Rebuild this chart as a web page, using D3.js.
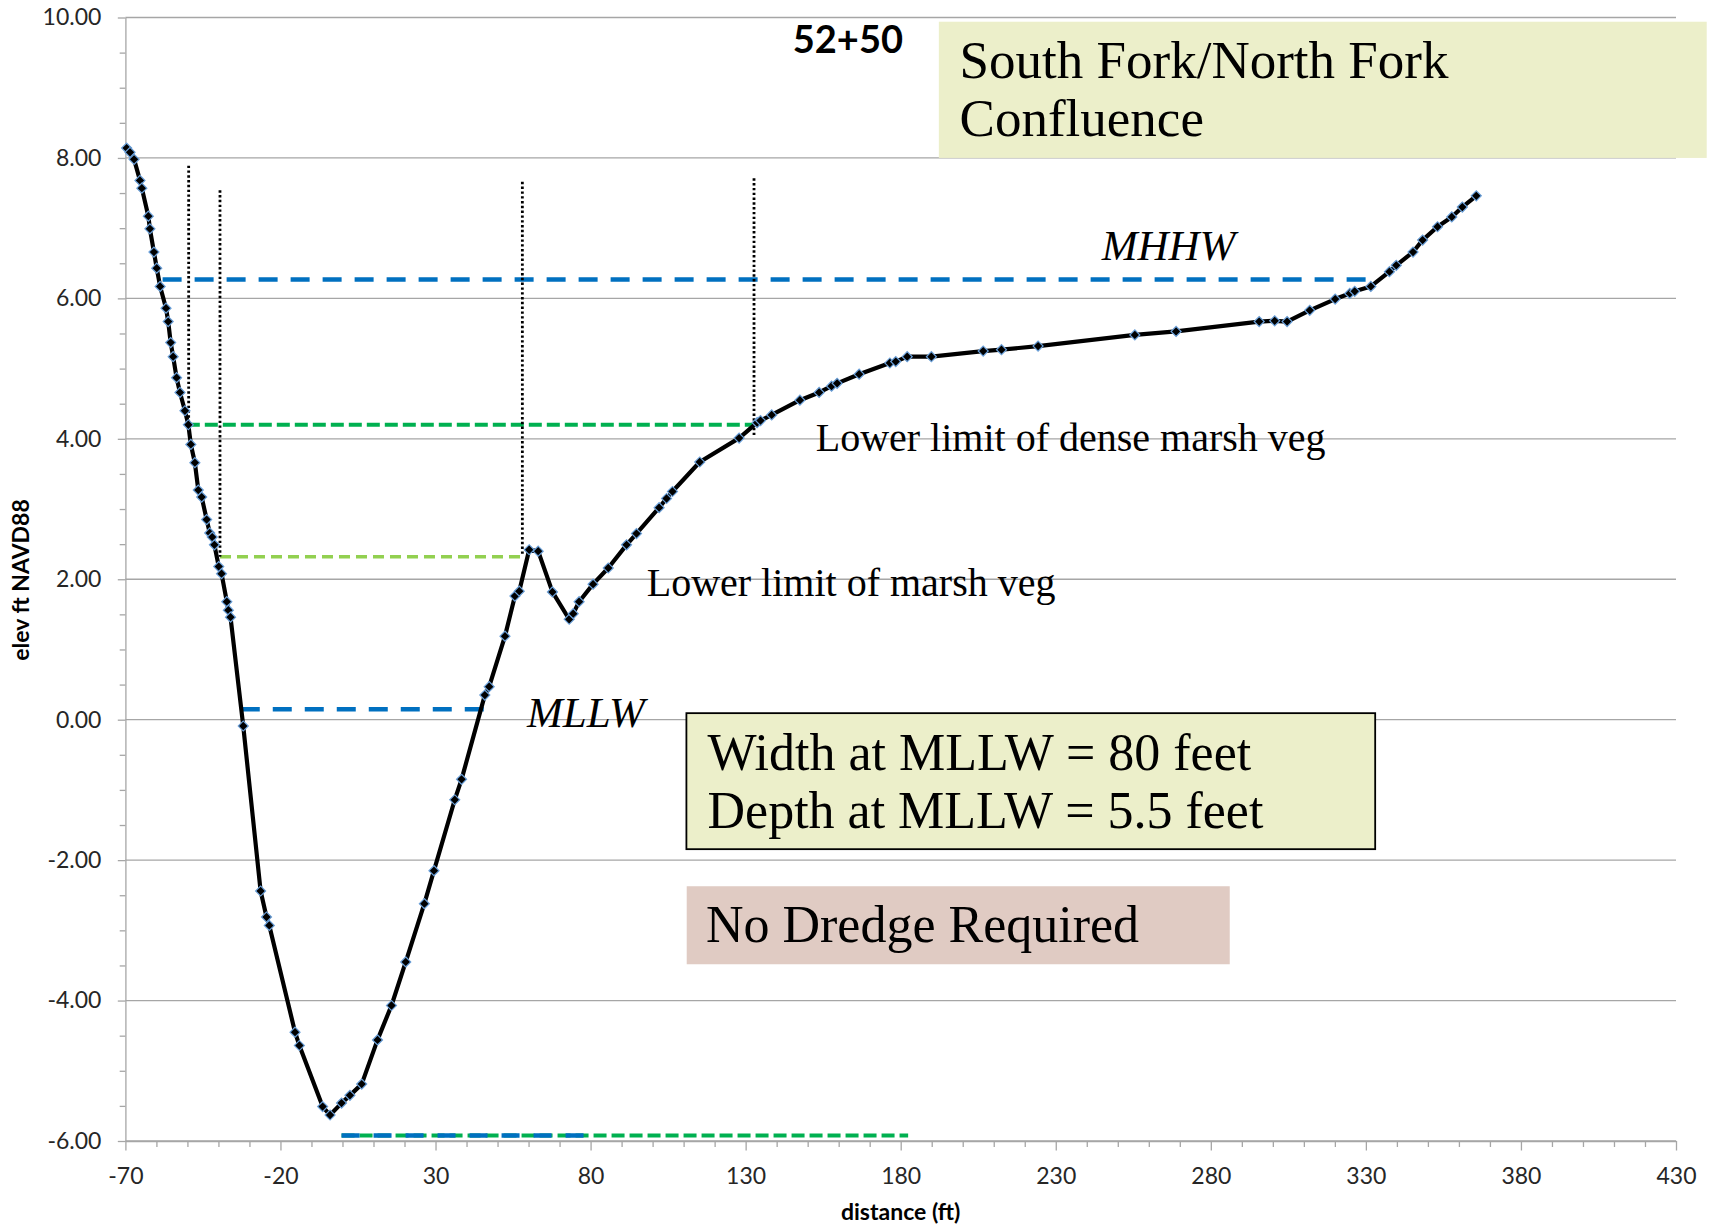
<!DOCTYPE html>
<html>
<head>
<meta charset="utf-8">
<script src="https://cdn.jsdelivr.net/npm/d3@7"></script>
<style>
  body { margin: 0; background: #fff; }
  .axis text { font-family: Lato, "Liberation Sans", sans-serif; font-size: 23px; fill: #262626; }
  .axis line, .axis path { stroke: #a6a6a6; stroke-width: 1.3px; }
  .serif { font-family: "Liberation Serif", "Times New Roman", serif; fill: #000; }
</style>
</head>
<body>
<script>
// cross-section profile at station 52+50
var distance = [
  -69.6, -68.5, -67.2, -65.3, -64.7, -62.6, -62.1, -60.8, -59.9, -58.8,
  -56.9, -56.2, -55.4, -54.6, -53.5, -52.4, -50.8, -49.7, -48.9, -47.6,
  -46.5, -45.4, -43.8, -42.8, -42.0, -41.3, -39.9, -39.0, -37.3, -36.8,
  -36.1, -32.0, -26.4, -24.5, -23.6, -15.3, -13.9, -6.4, -4.0, -0.3,
  2.4, 6.2, 11.3, 15.8, 20.4, 26.4, 29.5, 36.2, 38.4, 45.9,
  47.3, 52.4, 55.6, 57.0, 60.2, 63.1, 67.7, 73.1, 74.4, 76.3,
  80.8, 85.7, 91.6, 94.8, 102.1, 104.5, 106.4, 115.2, 127.9, 133.7,
  134.8, 138.4, 147.5, 153.7, 157.7, 159.5, 166.6, 176.5, 178.4, 182.1,
  189.9, 206.6, 212.5, 224.3, 255.5, 268.8, 295.6, 300.6, 304.6, 311.9,
  320.1, 324.8, 326.4, 331.6, 337.6, 339.8, 345.2, 348.3, 353.1, 357.7,
  361.1, 365.6];
var elevation = [
  8.14, 8.08, 7.98, 7.68, 7.57, 7.17, 6.99, 6.66, 6.43, 6.17,
  5.86, 5.67, 5.37, 5.17, 4.87, 4.66, 4.40, 4.20, 3.92, 3.66,
  3.27, 3.17, 2.85, 2.66, 2.60, 2.49, 2.18, 2.08, 1.68, 1.56,
  1.46, -0.09, -2.44, -2.81, -2.93, -4.45, -4.64, -5.51, -5.63, -5.46,
  -5.35, -5.19, -4.56, -4.07, -3.45, -2.62, -2.15, -1.14, -0.85, 0.35,
  0.47, 1.19, 1.76, 1.83, 2.42, 2.40, 1.82, 1.43, 1.51, 1.68,
  1.93, 2.16, 2.49, 2.65, 3.02, 3.15, 3.25, 3.67, 4.01, 4.23,
  4.26, 4.34, 4.55, 4.66, 4.75, 4.79, 4.92, 5.08, 5.10, 5.17,
  5.17, 5.25, 5.27, 5.32, 5.48, 5.53, 5.67, 5.68, 5.67, 5.83,
  5.99, 6.07, 6.10, 6.17, 6.38, 6.47, 6.66, 6.83, 7.02, 7.16,
  7.30, 7.46];

// horizontal reference levels (dashed)
var levelNames = ["bottom green", "MHHW", "dense marsh veg", "marsh veg", "MLLW", "bottom blue"];
var levelElev = [-5.92, 6.27, 4.2, 2.32, 0.15, -5.92];
var levelFrom = [-0.3, -58.0, -50.2, -39.5, -32.8, -0.3];
var levelTo = [182.4, 333.2, 132.5, 59.0, 45.9, 79.0];

// vertical dotted guides
var guideX = [-49.6, -39.5, 58.0, 132.7];
var guideTop = [7.89, 7.54, 7.66, 7.71];
var guideBottom = [4.2, 2.32, 2.34, 4.05];

// tick labels
var xTicks = [-70, -20, 30, 80, 130, 180, 230, 280, 330, 380, 430];
var yTicks = [-6, -4, -2, 0, 2, 4, 6, 8, 10];

// line styles for the levels, same order as levelNames
var levelColor = ["#00b050", "#0070c0", "#00b050", "#92d050", "#0070c0", "#0070c0"];
var levelDash = ["13,5", "19,13", "13,5", "11,6", "19,13", "18,14"];
var levelWidth = [4, 4.5, 4, 3.6, 4.5, 4.5];

var margin = {top: 17.5, right: 34, bottom: 91, left: 125.4},
    width = 1710 - margin.left - margin.right,
    height = 1232 - margin.top - margin.bottom;

var x = d3.scaleLinear().domain([-70, 430]).range([0, width]);
var y = d3.scaleLinear().domain([-6, 10]).range([height, 0]);

// plain hyphen for negatives, like the original
var fmtY = function(d) { return d3.format(".2f")(d).replace("\u2212", "-"); };
var fmtX = function(d) { return String(d); };

var svg = d3.select("body").append("svg")
    .attr("width", 1710)
    .attr("height", 1232)
  .append("g")
    .attr("transform", "translate(" + margin.left + "," + margin.top + ")");

// gridlines
svg.append("g").selectAll("line")
    .data(yTicks)
    .enter().append("line")
    .attr("x1", 0).attr("x2", width)
    .attr("y1", function(d) { return y(d); })
    .attr("y2", function(d) { return y(d); })
    .attr("stroke", "#a6a6a6")
    .attr("stroke-width", 1.3);

// minor ticks
var yMinor = d3.range(-6, 10.01, 0.5).filter(function(d) { return d % 2 !== 0; });
var xMinor = d3.range(-70, 431, 10).filter(function(d) { return (d + 70) % 50 !== 0; });

svg.append("g").attr("class", "axis")
    .call(d3.axisLeft(y).tickValues(yMinor).tickSize(5.7).tickFormat(""))
    .select(".domain").remove();
svg.append("g").attr("class", "axis")
    .attr("transform", "translate(0," + height + ")")
    .call(d3.axisBottom(x).tickValues(xMinor).tickSize(6).tickFormat(""))
    .select(".domain").remove();

// main axes
svg.append("g").attr("class", "axis")
    .call(d3.axisLeft(y).tickValues(yTicks).tickSize(7.6).tickSizeOuter(0)
        .tickPadding(16.4).tickFormat(fmtY));
svg.append("g").attr("class", "axis")
    .attr("transform", "translate(0," + height + ")")
    .call(d3.axisBottom(x).tickValues(xTicks).tickSize(9.5).tickSizeOuter(0)
        .tickPadding(17.5).tickFormat(fmtX));

// axis titles
svg.append("text")
    .attr("transform", "translate(" + (28.5 - margin.left) + "," + (580 - margin.top) + ") rotate(-90)")
    .attr("text-anchor", "middle")
    .style("font-family", "Lato, sans-serif")
    .style("font-weight", "bold")
    .style("font-size", "23px")
    .text("elev ft NAVD88");
svg.append("text")
    .attr("x", width / 2)
    .attr("y", 1220 - margin.top)
    .attr("text-anchor", "middle")
    .style("font-family", "Lato, sans-serif")
    .style("font-weight", "bold")
    .style("font-size", "23px")
    .text("distance (ft)");

// station title
svg.append("text")
    .attr("x", x(145.2))
    .attr("y", y(9.494))
    .style("font-family", "Lato, sans-serif")
    .style("font-weight", "bold")
    .style("font-size", "38px")
    .text("52+50");

// location box
svg.append("rect")
    .attr("x", x(192.3)).attr("y", y(9.94))
    .attr("width", x(439.9) - x(192.3))
    .attr("height", y(8.0) - y(9.94))
    .attr("fill", "#ecefca");
svg.append("text").attr("class", "serif")
    .attr("x", x(199)).attr("y", y(9.138))
    .style("font-size", "53px")
    .text("South Fork/North Fork");
svg.append("text").attr("class", "serif")
    .attr("x", x(199)).attr("y", y(8.312))
    .style("font-size", "53px")
    .text("Confluence");

// level lines
var levels = levelNames.map(function(n, i) {
    return {name: n, elev: levelElev[i], from: levelFrom[i], to: levelTo[i],
            color: levelColor[i], dash: levelDash[i], w: levelWidth[i]};
});
svg.append("g").selectAll("line")
    .data(levels)
    .enter().append("line")
    .attr("x1", function(d) { return x(d.from); })
    .attr("x2", function(d) { return x(d.to); })
    .attr("y1", function(d) { return y(d.elev); })
    .attr("y2", function(d) { return y(d.elev); })
    .attr("stroke", function(d) { return d.color; })
    .attr("stroke-width", function(d) { return d.w; })
    .attr("stroke-dasharray", function(d) { return d.dash; });

// dotted guides
svg.append("g").selectAll("line")
    .data(guideX)
    .enter().append("line")
    .attr("x1", function(d) { return x(d); })
    .attr("x2", function(d) { return x(d); })
    .attr("y1", function(d, i) { return y(guideTop[i]); })
    .attr("y2", function(d, i) { return y(guideBottom[i]); })
    .attr("stroke", "#000")
    .attr("stroke-width", 2.8)
    .attr("stroke-dasharray", "2.4,2.4");

// text labels
svg.append("text").attr("class", "serif")
    .attr("x", x(244.8)).attr("y", y(6.546))
    .style("font-size", "43px").style("font-style", "italic")
    .text("MHHW");
svg.append("text").attr("class", "serif")
    .attr("x", x(59.5)).attr("y", y(-0.107))
    .style("font-size", "43px").style("font-style", "italic")
    .text("MLLW");
svg.append("text").attr("class", "serif")
    .attr("x", x(152.6)).attr("y", y(3.825))
    .style("font-size", "40px")
    .text("Lower limit of dense marsh veg");
svg.append("text").attr("class", "serif")
    .attr("x", x(98.1)).attr("y", y(1.758))
    .style("font-size", "40px")
    .text("Lower limit of marsh veg");

// width / depth box
svg.append("rect")
    .attr("x", x(110.9)).attr("y", y(0.093))
    .attr("width", x(333.0) - x(110.9))
    .attr("height", y(-1.844) - y(0.093))
    .attr("fill", "#ecefca")
    .attr("stroke", "#000")
    .attr("stroke-width", 1.8);
svg.append("text").attr("class", "serif")
    .attr("x", x(117.7)).attr("y", y(-0.719))
    .style("font-size", "52px")
    .text("Width at MLLW = 80 feet");
svg.append("text").attr("class", "serif")
    .attr("x", x(117.7)).attr("y", y(-1.545))
    .style("font-size", "52px")
    .text("Depth at MLLW = 5.5 feet");

// dredge box
svg.append("rect")
    .attr("x", x(111.0)).attr("y", y(-2.372))
    .attr("width", x(286.1) - x(111.0))
    .attr("height", y(-3.483) - y(-2.372))
    .attr("fill", "#e0cbc3");
svg.append("text").attr("class", "serif")
    .attr("x", x(117.2)).attr("y", y(-3.17))
    .style("font-size", "52px")
    .text("No Dredge Required");

// profile line
var profile = distance.map(function(d, i) { return {x: d, y: elevation[i]}; });
var line = d3.line()
    .x(function(d) { return x(d.x); })
    .y(function(d) { return y(d.y); });
svg.append("path")
    .datum(profile)
    .attr("fill", "none")
    .attr("stroke", "#000")
    .attr("stroke-width", 4.2)
    .attr("stroke-linejoin", "round")
    .attr("d", line);

// diamond markers
svg.append("g").selectAll("path")
    .data(profile)
    .enter().append("path")
    .attr("d", d3.symbol(d3.symbolSquare).size(50))
    .attr("transform", function(d) {
        return "translate(" + x(d.x) + "," + y(d.y) + ") rotate(45)";
    })
    .attr("fill", "#000")
    .attr("stroke", "#6a9fd8")
    .attr("stroke-width", 1.2);
</script>
</body>
</html>
